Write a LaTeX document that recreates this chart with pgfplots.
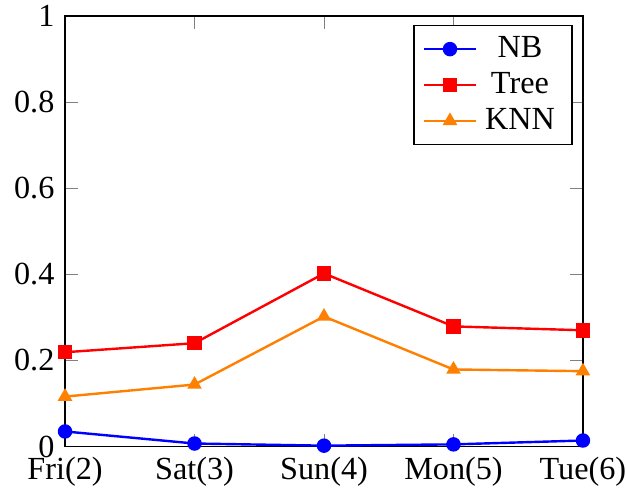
\documentclass[border=0pt]{standalone}
\usepackage{pgfplots}
\pgfplotsset{compat=1.18}
\usepackage{fontspec}
\setmainfont{Liberation Serif}
\begin{document}
\begin{tikzpicture}[font=\fontsize{10.7}{13}\selectfont]
\begin{axis}[
  name=ax,
  scale only axis,
  width=172pt, height=143pt,
  xmin=2, xmax=6, ymin=0, ymax=1,
  xtick={2,3,4,5,6},
  xticklabels={Fri(2),Sat(3),Sun(4),Mon(5),Tue(6)},
  ytick={0,0.2,0.4,0.6,0.8,1},
  /pgf/number format/assume math mode=true,
  legend cell align=center,
  legend style={at={(0.98,0.98)}, anchor=north east, nodes={inner ysep=1.7pt, inner xsep=2.7pt}},
  every axis plot/.append style={thick, mark size=2pt},
]
\addplot[blue, mark=*] coordinates {(2,0.035) (3,0.007) (4,0.002) (5,0.005) (6,0.014)};
\addlegendentry{NB}
\addplot[red, mark=square*] coordinates {(2,0.219) (3,0.240) (4,0.402) (5,0.279) (6,0.270)};
\addlegendentry{Tree}
\addplot[orange, mark=triangle*] coordinates {(2,0.116) (3,0.144) (4,0.302) (5,0.179) (6,0.175)};
\addlegendentry{KNN}
\end{axis}
\pgfresetboundingbox
\useasboundingbox ([shift={(-21.6pt,-13.9pt)}]ax.south west) rectangle ([shift={(14.3pt,5.3pt)}]ax.north east);
\end{tikzpicture}
\end{document}
